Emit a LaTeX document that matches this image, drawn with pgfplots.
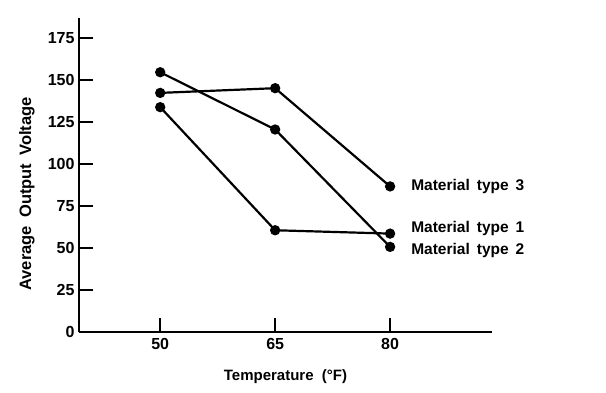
\documentclass[border=0pt]{standalone}
\usepackage{fontspec}
\setmainfont{Liberation Sans}
\usepackage{pgfplots}
\pgfplotsset{compat=1.18}
\begin{document}
\begin{tikzpicture}[x=1pt,y=1pt]
\begin{axis}[
  at={(0,0)}, anchor=south west,
  scale only axis, width=413pt, height=314pt,
  xmin=39.4, xmax=93.3, ymin=0, ymax=187,
  axis x line*=bottom, axis y line*=left,
  axis line style={-, line width=2.4pt},
  xtick={50,65,80}, ytick={0,25,50,75,100,125,150,175},
  tick align=inside, major tick length=14pt,
  tick style={line width=1.6pt, black},
  /pgf/number format/assume math mode=true,
  ticklabel style={font=\fontsize{16}{18}\selectfont\bfseries},
  yticklabel style={xshift=-1pt},
  xticklabel style={yshift=-3pt},
  xlabel={Temperature\ \ (°F)},
  ylabel={Average\hspace{0.5em}Output\hspace{0.5em}Voltage},
  xlabel style={font=\fontsize{15}{17}\selectfont\bfseries, at={(axis description cs:0.50,-0.142)}, anchor=center},
  ylabel style={font=\fontsize{16.5}{18}\selectfont\bfseries, at={(axis description cs:-0.126,0.44)}, anchor=center},
  clip=false,
]
\addplot[black, line width=2.2pt, mark=*, mark size=4pt, mark options={solid, fill=black}] coordinates {(50,133.9) (65,60.6) (80,58.6)};
\addplot[black, line width=2.2pt, mark=*, mark size=4pt, mark options={solid, fill=black}] coordinates {(50,154.7) (65,120.6) (80,50.7)};
\addplot[black, line width=2.2pt, mark=*, mark size=4pt, mark options={solid, fill=black}] coordinates {(50,142.4) (65,145.2) (80,86.7)};
\node[anchor=west, inner sep=0, font=\fontsize{15.5}{17}\selectfont\bfseries] at (axis cs:80,86.4) [xshift=21pt] {Material\hspace{0.45em}type\hspace{0.45em}3};
\node[anchor=west, inner sep=0, font=\fontsize{15.5}{17}\selectfont\bfseries] at (axis cs:80,61.8) [xshift=21pt] {Material\hspace{0.45em}type\hspace{0.45em}1};
\node[anchor=west, inner sep=0, font=\fontsize{15.5}{17}\selectfont\bfseries] at (axis cs:80,48.7) [xshift=21pt] {Material\hspace{0.45em}type\hspace{0.45em}2};
\end{axis}
\useasboundingbox (-79pt,-60pt) rectangle (527pt,332pt);
\end{tikzpicture}
\end{document}
